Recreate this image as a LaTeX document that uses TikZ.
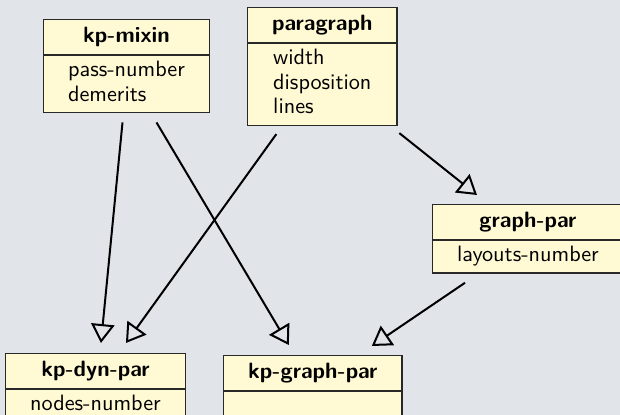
\documentclass[tikz,border=0pt]{standalone}
\usepackage{tikz}
\usetikzlibrary{shapes.multipart,arrows.meta,calc}
\definecolor{bgcol}{RGB}{225,229,234}
\definecolor{clsfill}{RGB}{255,250,212}
\definecolor{clsline}{RGB}{40,40,40}
\tikzset{
    cls/.style={draw=clsline, fill=clsfill, line width=0.6pt,
      rectangle split, rectangle split parts=2,
      inner xsep=11pt, inner ysep=1.6pt, anchor=north west,
      font=\fontsize{10}{11.1}\selectfont\sffamily},
    uses/.style={line width=0.9pt,
      -{Triangle[open,length=8.5pt,width=10.5pt]}}
}
\newcommand{\clshead}[1]{\textbf{#1}\rule[-3.5pt]{0pt}{12.1pt}}
\newcommand{\clsbody}[1]{\begin{tabular}{@{}l@{}}#1\end{tabular}}
\begin{document}
\begin{tikzpicture}[x=0.45pt,y=-0.45pt]
    \useasboundingbox (0,0) rectangle (620,415);
    \fill[bgcol] (0,0) rectangle (620,415);
    \node[cls] (mixin) at (43,19)
      {\clshead{kp-mixin}\nodepart{two}\clsbody{pass-number\\demerits}};
    \node[cls] (paragraph) at (247,7)
      {\clshead{paragraph}\nodepart{two}\clsbody{width\\disposition\\lines}};
    \node[cls] (graphpar) at (432,204)
      {\clshead{graph-par}\nodepart{two}\clsbody{layouts-number}};
    \node[cls] (dynpar) at (5,353)
      {\clshead{kp-dyn-par}\nodepart{two}\clsbody{nodes-number}};
    \node[cls] (kpgraphpar) at (223,355)
      {\clshead{kp-graph-par}\nodepart{two}\clsbody{\strut}};
    \draw[uses] ($(mixin.south)+(-4,9)$) -- ($(dynpar.north)+(5.5,-10)$);
    \draw[uses] ($(mixin.south)+(30,9)$) -- ($(kpgraphpar.north)+(-24,-10)$);
    \draw[uses] ($(paragraph.south)+(-46,8)$) -- ($(dynpar.north)+(30.5,-10)$);
    \draw[uses] ($(paragraph.south)+(77,7)$) -- ($(graphpar.north west)+(45,-9)$);
    \draw[uses] ($(graphpar.south west)+(33,9)$) -- ($(kpgraphpar.north)+(59,-9)$);
\end{tikzpicture}
\end{document}
